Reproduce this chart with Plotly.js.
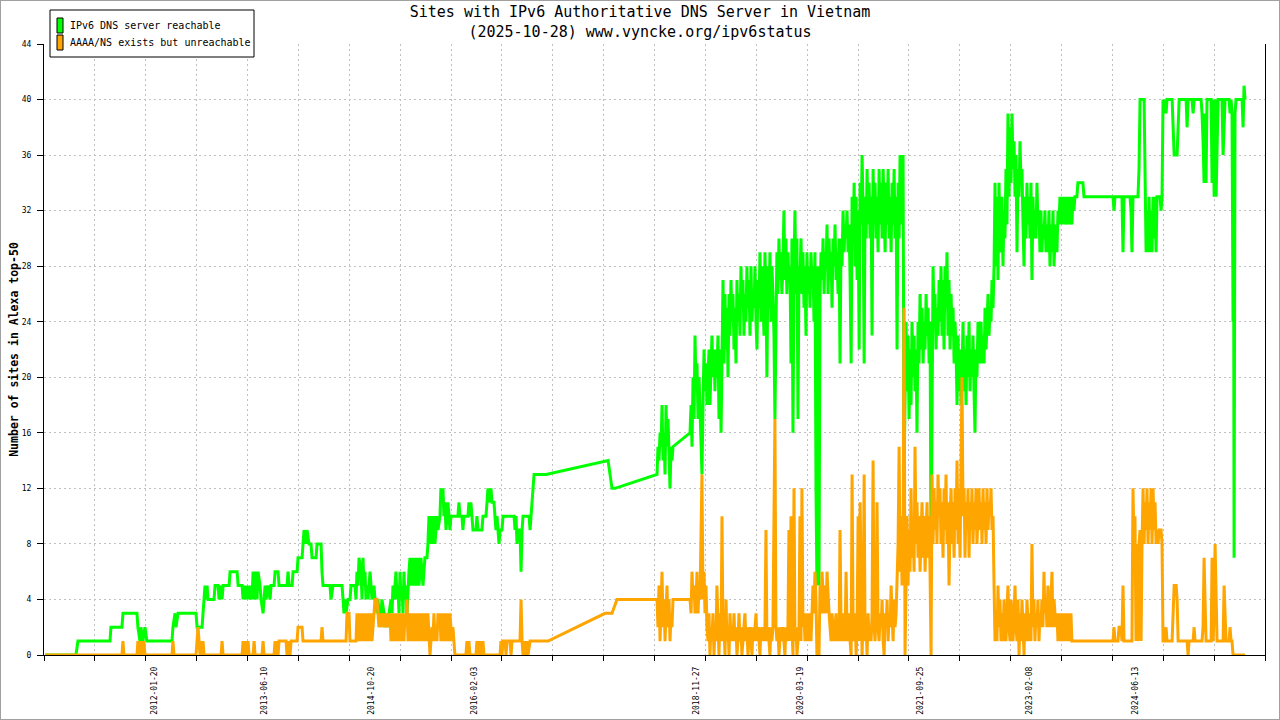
<!DOCTYPE html>
<html><head><meta charset="utf-8">
<script src="https://cdn.plot.ly/plotly-3.0.1.min.js"></script>
<style>
html,body{margin:0;padding:0;background:#fff;}
#chart{width:1280px;height:720px;}
#frame{position:absolute;left:0;top:0;width:1280px;height:720px;box-sizing:border-box;border:1px solid #a0a0a0;pointer-events:none;}
</style></head><body>
<div id="chart"></div><div id="frame"></div>
<script>
const chartTitle = 'Sites with IPv6 Authoritative DNS Server in Vietnam<br>(2025-10-28) www.vyncke.org/ipv6status';
const yAxisTitle = 'Number of sites in Alexa top-50';
const greenName = 'IPv6 DNS server reachable';
const orangeName = 'AAAA/NS exists but unreachable';
const dateLabels = ['2012-01-20','2013-06-10','2014-10-20','2016-02-03','2018-11-27','2020-03-19','2021-09-25','2023-02-08','2024-06-13'];
const yTicks = [0,4,8,12,16,20,24,28,32,36,40,44];

// [decimal year, number of sites]
const greenSeries = [
[2010.672,0],[2011.063,0],[2011.088,1],[2011.493,1],[2011.505,2],[2011.644,2],[2011.657,3],[2011.834,3],[2011.846,2],[2011.872,1],[2011.884,2],[2011.909,1],[2011.935,2],[2011.960,1],[2012.276,1],[2012.288,2],[2012.314,3],[2012.326,2],[2012.352,3],[2012.579,3],[2012.592,2],[2012.655,2],[2012.667,3],[2012.680,4],[2012.692,5],[2012.705,4],[2012.718,5],[2012.730,4],[2012.806,4],[2012.819,5],[2012.857,5],[2012.869,4],[2012.895,5],[2012.907,4],[2012.920,5],[2012.996,5],[2013.008,6],[2013.097,6],[2013.110,5],[2013.160,5],[2013.172,4],[2013.185,5],[2013.198,4],[2013.210,5],[2013.223,4],[2013.236,5],[2013.248,4],[2013.261,5],[2013.286,4],[2013.299,6],[2013.312,4],[2013.324,6],[2013.337,5],[2013.349,4],[2013.362,6],[2013.387,5],[2013.400,4],[2013.425,3],[2013.438,4],[2013.450,5],[2013.463,4],[2013.488,5],[2013.514,4],[2013.526,5],[2013.564,5],[2013.577,6],[2013.615,6],[2013.627,5],[2013.728,5],[2013.741,6],[2013.754,5],[2013.792,5],[2013.804,6],[2013.855,6],[2013.867,7],[2013.918,7],[2013.930,8],[2013.943,9],[2013.968,8],[2013.981,9],[2014.006,8],[2014.031,8],[2014.044,7],[2014.095,7],[2014.107,8],[2014.158,8],[2014.170,6],[2014.183,5],[2014.271,5],[2014.284,4],[2014.309,5],[2014.423,5],[2014.436,4],[2014.448,3],[2014.461,4],[2014.474,3],[2014.499,4],[2014.524,4],[2014.537,5],[2014.587,5],[2014.600,4],[2014.612,6],[2014.625,5],[2014.638,7],[2014.663,6],[2014.676,4],[2014.688,7],[2014.701,5],[2014.714,6],[2014.726,4],[2014.739,5],[2014.751,4],[2014.777,6],[2014.789,5],[2014.802,4],[2014.827,5],[2014.840,4],[2014.865,3],[2014.878,4],[2014.890,3],[2014.903,2],[2014.916,3],[2014.928,4],[2014.954,3],[2014.966,2],[2014.979,3],[2015.004,2],[2015.017,3],[2015.042,4],[2015.055,3],[2015.067,5],[2015.080,4],[2015.105,6],[2015.118,4],[2015.130,5],[2015.143,3],[2015.156,6],[2015.168,4],[2015.181,5],[2015.194,3],[2015.206,6],[2015.219,4],[2015.232,5],[2015.244,3],[2015.257,5],[2015.269,6],[2015.282,7],[2015.295,5],[2015.307,7],[2015.320,6],[2015.332,5],[2015.345,7],[2015.358,5],[2015.383,7],[2015.396,5],[2015.421,7],[2015.446,5],[2015.471,7],[2015.497,7],[2015.509,8],[2015.522,10],[2015.535,8],[2015.547,10],[2015.560,9],[2015.572,8],[2015.585,10],[2015.598,8],[2015.610,9],[2015.623,10],[2015.636,9],[2015.661,10],[2015.673,12],[2015.686,11],[2015.699,12],[2015.711,10],[2015.724,11],[2015.737,9],[2015.749,10],[2015.762,11],[2015.775,10],[2015.787,9],[2015.800,10],[2015.888,10],[2015.901,11],[2015.914,10],[2015.939,10],[2015.951,9],[2015.964,10],[2016.015,10],[2016.027,11],[2016.040,10],[2016.052,11],[2016.065,10],[2016.078,9],[2016.116,9],[2016.128,10],[2016.141,9],[2016.191,9],[2016.204,10],[2016.242,10],[2016.255,11],[2016.267,12],[2016.280,11],[2016.305,12],[2016.318,11],[2016.343,11],[2016.355,10],[2016.368,9],[2016.381,10],[2016.393,9],[2016.406,8],[2016.419,9],[2016.444,9],[2016.457,10],[2016.596,10],[2016.608,9],[2016.621,10],[2016.633,8],[2016.646,9],[2016.671,9],[2016.684,6],[2016.697,9],[2016.709,10],[2016.785,10],[2016.798,9],[2016.810,10],[2016.823,11],[2016.836,12],[2016.848,13],[2016.886,13],[2017.000,13],[2017.783,14],[2017.808,13],[2017.833,12],[2017.871,12],[2018.402,13],
[2018.414,15],[2018.427,14],[2018.440,16],[2018.453,15],[2018.465,18],[2018.478,14],[2018.491,16],[2018.503,13],[2018.516,18],[2018.528,15],[2018.541,17],[2018.554,14],[2018.566,12],[2018.579,15],[2018.591,14],[2018.604,15],
[2018.819,16],[2018.832,18],[2018.844,15],[2018.857,20],[2018.870,17],[2018.882,23],[2018.895,19],[2018.907,21],[2018.920,17],[2018.933,20],[2018.945,18],[2018.958,16],[2018.970,13],[2018.983,18],[2018.996,22],[2019.008,19],[2019.021,21],[2019.033,18],[2019.046,20],[2019.059,22],[2019.071,18],[2019.084,21],[2019.096,23],[2019.109,20],[2019.122,22],[2019.134,19],[2019.147,22],[2019.159,20],[2019.172,23],[2019.185,17],[2019.198,22],[2019.211,16],[2019.223,20],[2019.236,27],[2019.249,21],[2019.261,26],[2019.274,22],[2019.286,25],[2019.299,20],[2019.312,26],[2019.324,23],[2019.337,27],[2019.349,24],[2019.362,26],[2019.375,22],[2019.387,25],[2019.400,21],[2019.412,27],[2019.425,24],[2019.438,26],[2019.450,23],[2019.463,28],[2019.475,25],[2019.488,27],[2019.501,23],[2019.513,26],[2019.526,24],[2019.538,28],[2019.551,25],[2019.564,27],[2019.577,23],[2019.590,28],[2019.602,24],[2019.615,26],[2019.628,25],[2019.640,28],[2019.653,24],[2019.665,22],[2019.678,27],[2019.691,25],[2019.703,29],[2019.716,24],[2019.728,28],[2019.741,26],[2019.754,23],[2019.766,29],[2019.779,26],[2019.791,20],[2019.804,28],[2019.817,25],[2019.829,29],[2019.842,24],[2019.854,28],[2019.867,26],[2019.880,23],[2019.892,17],[2019.905,26],[2019.917,29],[2019.930,26],[2019.943,30],[2019.955,27],[2019.968,29],[2019.980,26],[2019.993,28],[2020.006,32],[2020.018,27],[2020.031,30],[2020.043,26],[2020.056,29],[2020.069,27],[2020.082,28],[2020.095,21],[2020.107,30],[2020.120,16],[2020.133,28],[2020.145,32],[2020.158,26],[2020.170,30],[2020.183,17],[2020.196,28],[2020.208,27],[2020.221,30],[2020.233,26],[2020.246,29],[2020.259,25],[2020.271,28],[2020.284,23],[2020.296,29],[2020.309,26],[2020.322,28],[2020.334,25],[2020.347,29],[2020.359,27],[2020.372,28],[2020.385,24],[2020.397,29],[2020.410,12],[2020.422,5],[2020.435,28],[2020.448,5],[2020.461,26],[2020.474,29],[2020.486,27],[2020.499,30],[2020.512,26],[2020.524,29],[2020.537,28],[2020.549,31],[2020.562,26],[2020.575,30],[2020.587,27],[2020.600,29],[2020.612,25],[2020.625,30],[2020.638,28],[2020.650,31],[2020.663,27],[2020.675,29],[2020.688,26],[2020.701,30],[2020.713,21],[2020.726,30],[2020.738,28],[2020.751,32],[2020.764,29],[2020.776,31],[2020.789,30],[2020.801,32],[2020.814,29],[2020.827,31],[2020.840,27],[2020.853,21],[2020.865,33],[2020.878,30],[2020.891,34],[2020.903,28],[2020.916,33],[2020.928,27],[2020.941,32],[2020.954,22],[2020.966,34],[2020.979,31],[2020.991,36],[2021.004,32],[2021.017,21],[2021.029,33],[2021.042,30],[2021.054,35],[2021.067,31],[2021.080,34],[2021.092,30],[2021.105,33],[2021.117,23],[2021.130,35],[2021.143,31],[2021.155,34],[2021.168,30],[2021.180,33],[2021.193,29],[2021.206,35],[2021.219,31],[2021.232,34],[2021.244,30],[2021.257,35],[2021.270,32],[2021.282,29],[2021.295,34],[2021.307,31],[2021.320,35],[2021.333,30],[2021.345,33],[2021.358,29],[2021.370,34],[2021.383,31],[2021.396,35],[2021.408,30],[2021.421,33],[2021.433,22],[2021.446,34],[2021.459,30],[2021.471,36],[2021.484,31],[2021.496,35],[2021.509,36],[2021.522,13],[2021.534,20],[2021.547,24],[2021.559,19],[2021.572,23],[2021.585,17],[2021.597,22],[2021.610,18],[2021.622,24],[2021.635,20],[2021.648,23],[2021.660,19],[2021.673,22],[2021.685,16],[2021.698,24],[2021.711,21],[2021.724,26],[2021.737,22],[2021.749,25],[2021.762,21],[2021.775,24],[2021.787,22],[2021.800,26],[2021.812,23],[2021.825,25],[2021.838,21],[2021.850,24],[2021.863,7],[2021.875,22],[2021.888,28],[2021.901,24],[2021.913,26],[2021.926,22],[2021.938,25],[2021.951,23],[2021.964,27],[2021.976,24],[2021.989,28],[2022.001,23],[2022.014,27],[2022.027,22],[2022.039,28],[2022.052,25],[2022.064,29],[2022.077,23],[2022.090,27],[2022.103,22],[2022.116,26],[2022.128,23],[2022.141,25],[2022.154,21],[2022.166,24],[2022.179,22],[2022.191,18],[2022.204,23],[2022.217,19],[2022.229,22],[2022.242,18],[2022.254,20],[2022.267,24],[2022.280,19],[2022.292,22],[2022.305,18],[2022.317,23],[2022.330,20],[2022.343,24],[2022.355,19],[2022.368,22],[2022.380,20],[2022.393,23],[2022.406,19],[2022.418,16],[2022.431,22],[2022.443,20],[2022.456,24],[2022.469,21],[2022.482,22],[2022.495,24],[2022.507,21],[2022.520,23],[2022.533,21],[2022.545,25],[2022.558,22],[2022.570,24],[2022.583,26],[2022.596,23],[2022.608,25],[2022.621,24],[2022.633,27],[2022.646,25],[2022.659,28],[2022.671,34],[2022.684,28],[2022.696,33],[2022.709,27],[2022.722,34],[2022.734,29],[2022.747,30],[2022.759,33],[2022.772,28],[2022.785,32],[2022.797,30],[2022.810,35],[2022.822,31],[2022.835,39],[2022.848,33],[2022.861,38],[2022.874,34],[2022.886,39],[2022.899,35],[2022.912,37],[2022.924,33],[2022.937,36],[2022.949,29],[2022.962,35],[2022.975,33],[2022.987,37],[2023.000,34],[2023.012,35],[2023.025,31],[2023.038,28],[2023.050,33],[2023.063,30],[2023.075,34],[2023.088,31],[2023.101,33],[2023.113,30],[2023.126,34],[2023.138,27],[2023.151,33],[2023.164,30],[2023.176,32],[2023.189,30],[2023.201,34],[2023.214,31],[2023.227,32],[2023.239,29],[2023.252,32],[2023.264,29],[2023.277,31],[2023.290,30],[2023.302,32],[2023.315,29],[2023.327,31],[2023.340,29],[2023.353,32],[2023.366,28],[2023.379,31],[2023.391,29],[2023.404,32],[2023.417,28],[2023.429,30],[2023.442,31],[2023.454,29],[2023.467,32],[2023.480,31],[2023.492,33],[2023.505,32],[2023.517,31],[2023.530,33],[2023.543,31],[2023.555,33],[2023.568,32],[2023.580,31],[2023.593,33],[2023.606,31],[2023.618,33],[2023.631,32],[2023.643,31],[2023.656,33],[2023.669,32],[2023.681,33],[2023.706,33],[2023.719,34],[2023.782,34],[2023.796,33],[2024.162,33],[2024.175,32],[2024.187,33],[2024.275,33],[2024.288,29],[2024.301,33],[2024.376,33],[2024.389,32],[2024.401,29],[2024.414,33],[2024.477,33],[2024.490,35],[2024.503,40],[2024.554,40],[2024.566,33],[2024.579,29],[2024.591,32],[2024.604,29],[2024.617,33],[2024.629,29],[2024.642,32],[2024.654,29],[2024.667,33],[2024.680,30],[2024.692,33],[2024.705,29],[2024.717,33],[2024.755,33],[2024.768,32],[2024.780,33],[2024.793,40],[2024.806,39],[2024.818,40],[2024.831,39],[2024.843,40],[2024.907,40],[2024.920,38],[2024.933,36],[2024.970,36],[2024.983,38],[2024.996,40],[2025.084,40],[2025.096,38],[2025.109,40],[2025.159,40],[2025.172,39],[2025.185,40],[2025.273,40],[2025.285,39],[2025.298,37],[2025.311,34],[2025.323,39],[2025.336,34],[2025.348,40],[2025.400,40],[2025.412,34],[2025.425,40],[2025.438,33],[2025.450,40],[2025.463,33],[2025.475,38],[2025.488,40],[2025.538,40],[2025.551,36],[2025.564,38],[2025.576,40],[2025.627,40],[2025.639,39],[2025.652,40],[2025.664,39],[2025.677,24],[2025.683,38],[2025.690,7],[2025.702,39],[2025.715,40],[2025.791,40],[2025.804,38],[2025.816,41],[2025.829,40]
];

const orangeSeries = [
[2010.672,0],[2011.644,0],[2011.657,1],[2011.669,0],[2011.834,0],[2011.846,1],[2011.859,0],[2011.884,1],[2011.897,0],[2011.922,1],[2011.935,0],[2012.276,0],[2012.288,1],[2012.301,0],[2012.579,0],[2012.592,1],[2012.604,2],[2012.617,1],[2012.629,0],[2012.642,1],[2012.655,0],[2012.667,1],[2012.680,0],[2012.895,0],[2012.907,1],[2012.920,0],[2013.160,0],[2013.172,1],[2013.185,0],[2013.198,1],[2013.210,0],[2013.236,1],[2013.248,0],[2013.299,0],[2013.312,1],[2013.324,0],[2013.412,0],[2013.425,1],[2013.438,0],[2013.564,0],[2013.577,1],[2013.589,0],[2013.602,1],[2013.615,0],[2013.627,1],[2013.716,1],[2013.728,0],[2013.754,1],[2013.766,0],[2013.779,1],[2013.855,1],[2013.867,2],[2013.918,2],[2013.930,1],[2014.158,1],[2014.170,2],[2014.183,1],[2014.474,1],[2014.486,3],[2014.512,3],[2014.524,1],[2014.600,1],[2014.612,3],[2014.625,1],[2014.638,2],[2014.650,3],[2014.663,1],[2014.676,2],[2014.688,3],[2014.701,1],[2014.714,3],[2014.726,2],[2014.739,1],[2014.751,3],[2014.764,2],[2014.777,1],[2014.789,3],[2014.802,1],[2014.815,2],[2014.827,3],[2014.840,4],[2014.865,4],[2014.878,3],[2014.890,2],[2014.903,3],[2014.916,2],[2014.928,3],[2014.954,2],[2014.966,3],[2014.979,2],[2015.004,3],[2015.017,2],[2015.029,3],[2015.042,1],[2015.055,3],[2015.067,1],[2015.080,2],[2015.092,3],[2015.105,1],[2015.118,3],[2015.130,2],[2015.143,1],[2015.156,3],[2015.168,1],[2015.181,3],[2015.194,2],[2015.206,1],[2015.219,3],[2015.232,2],[2015.244,4],[2015.257,1],[2015.269,3],[2015.282,2],[2015.295,1],[2015.307,3],[2015.320,1],[2015.332,2],[2015.345,3],[2015.358,1],[2015.370,3],[2015.383,2],[2015.396,1],[2015.408,3],[2015.421,1],[2015.433,3],[2015.446,2],[2015.459,1],[2015.471,3],[2015.484,2],[2015.497,1],[2015.509,3],[2015.522,1],[2015.535,0],[2015.547,1],[2015.560,2],[2015.572,1],[2015.585,3],[2015.598,1],[2015.610,2],[2015.623,1],[2015.636,3],[2015.648,2],[2015.661,3],[2015.673,1],[2015.686,3],[2015.699,1],[2015.711,2],[2015.724,3],[2015.737,1],[2015.749,3],[2015.762,2],[2015.775,1],[2015.787,3],[2015.800,2],[2015.813,1],[2015.825,2],[2015.838,1],[2015.850,0],[2015.989,0],[2016.002,1],[2016.015,0],[2016.027,1],[2016.040,0],[2016.116,0],[2016.128,1],[2016.141,0],[2016.166,1],[2016.179,0],[2016.204,1],[2016.217,0],[2016.419,0],[2016.431,1],[2016.444,0],[2016.457,1],[2016.482,1],[2016.495,0],[2016.507,1],[2016.545,1],[2016.558,0],[2016.570,1],[2016.671,1],[2016.684,4],[2016.697,1],[2016.709,0],[2016.722,1],[2016.735,0],[2016.760,1],[2016.772,0],[2016.798,1],[2017.025,1],[2017.745,3],[2017.833,3],[2017.896,4],[2018.402,4],
[2018.414,2],[2018.427,5],[2018.440,1],[2018.453,3],[2018.465,6],[2018.478,2],[2018.491,4],[2018.503,1],[2018.516,3],[2018.528,5],[2018.541,2],[2018.554,4],[2018.566,1],[2018.579,3],[2018.591,2],[2018.604,4],
[2018.819,4],[2018.832,3],[2018.844,6],[2018.857,4],[2018.870,5],[2018.882,3],[2018.895,4],[2018.907,6],[2018.920,3],[2018.933,5],[2018.945,4],[2018.958,9],[2018.970,13],[2018.983,4],[2018.996,6],[2019.008,3],[2019.021,5],[2019.033,2],[2019.046,1],[2019.059,3],[2019.071,0],[2019.084,2],[2019.096,1],[2019.109,3],[2019.122,0],[2019.134,2],[2019.147,1],[2019.159,5],[2019.172,2],[2019.185,0],[2019.198,3],[2019.211,1],[2019.223,10],[2019.236,1],[2019.249,2],[2019.261,0],[2019.274,4],[2019.286,1],[2019.299,2],[2019.312,0],[2019.324,3],[2019.337,1],[2019.349,2],[2019.362,1],[2019.375,3],[2019.387,1],[2019.400,2],[2019.412,0],[2019.425,1],[2019.438,3],[2019.450,1],[2019.463,2],[2019.475,0],[2019.488,1],[2019.501,2],[2019.513,3],[2019.526,1],[2019.538,2],[2019.551,0],[2019.564,1],[2019.577,2],[2019.590,1],[2019.602,0],[2019.615,2],[2019.628,1],[2019.640,2],[2019.653,3],[2019.665,1],[2019.678,2],[2019.691,1],[2019.703,0],[2019.716,2],[2019.728,1],[2019.741,2],[2019.754,1],[2019.766,2],[2019.779,9],[2019.791,1],[2019.804,2],[2019.817,1],[2019.829,0],[2019.842,2],[2019.854,1],[2019.867,2],[2019.880,9],[2019.892,17],[2019.905,2],[2019.917,1],[2019.930,2],[2019.943,0],[2019.955,1],[2019.968,2],[2019.980,1],[2019.993,2],[2020.006,1],[2020.018,0],[2020.031,2],[2020.043,1],[2020.056,2],[2020.069,9],[2020.082,1],[2020.095,10],[2020.107,2],[2020.120,0],[2020.133,12],[2020.145,1],[2020.158,2],[2020.170,0],[2020.183,1],[2020.196,2],[2020.208,10],[2020.221,1],[2020.233,12],[2020.246,2],[2020.259,3],[2020.271,1],[2020.284,2],[2020.296,3],[2020.309,1],[2020.322,2],[2020.334,3],[2020.347,1],[2020.359,3],[2020.372,5],[2020.385,3],[2020.397,6],[2020.410,4],[2020.422,0],[2020.435,1],[2020.448,0],[2020.461,5],[2020.474,3],[2020.486,6],[2020.499,4],[2020.512,3],[2020.524,5],[2020.537,3],[2020.549,6],[2020.562,4],[2020.575,3],[2020.587,2],[2020.600,1],[2020.612,3],[2020.625,2],[2020.638,1],[2020.650,2],[2020.663,3],[2020.675,1],[2020.688,2],[2020.701,1],[2020.713,9],[2020.726,2],[2020.738,1],[2020.751,3],[2020.764,2],[2020.776,1],[2020.789,6],[2020.801,2],[2020.814,1],[2020.827,3],[2020.840,1],[2020.853,0],[2020.865,13],[2020.878,2],[2020.891,1],[2020.903,3],[2020.916,0],[2020.928,2],[2020.941,10],[2020.954,1],[2020.966,11],[2020.979,2],[2020.991,0],[2021.004,3],[2021.017,13],[2021.029,1],[2021.042,2],[2021.054,0],[2021.067,3],[2021.080,1],[2021.092,2],[2021.105,1],[2021.117,3],[2021.130,14],[2021.143,2],[2021.155,1],[2021.168,3],[2021.180,11],[2021.193,2],[2021.206,1],[2021.219,3],[2021.232,2],[2021.244,4],[2021.257,1],[2021.270,0],[2021.282,3],[2021.295,2],[2021.307,4],[2021.320,1],[2021.333,3],[2021.345,2],[2021.358,5],[2021.370,3],[2021.383,1],[2021.396,4],[2021.408,2],[2021.421,3],[2021.433,5],[2021.446,8],[2021.459,15],[2021.471,6],[2021.484,10],[2021.496,5],[2021.509,8],[2021.522,25],[2021.534,0],[2021.547,6],[2021.559,10],[2021.572,5],[2021.585,9],[2021.597,6],[2021.610,12],[2021.622,7],[2021.635,10],[2021.648,6],[2021.660,15],[2021.673,8],[2021.685,11],[2021.698,7],[2021.711,10],[2021.724,6],[2021.737,9],[2021.749,11],[2021.762,7],[2021.775,10],[2021.787,6],[2021.800,9],[2021.812,11],[2021.825,7],[2021.838,10],[2021.850,6],[2021.863,0],[2021.875,13],[2021.888,8],[2021.901,12],[2021.913,9],[2021.926,11],[2021.938,8],[2021.951,13],[2021.964,10],[2021.976,12],[2021.989,8],[2022.001,11],[2022.014,7],[2022.027,12],[2022.039,9],[2022.052,13],[2022.064,8],[2022.077,11],[2022.090,5],[2022.103,10],[2022.116,12],[2022.128,8],[2022.141,11],[2022.154,7],[2022.166,12],[2022.179,9],[2022.191,14],[2022.204,8],[2022.217,12],[2022.229,7],[2022.242,13],[2022.254,20],[2022.267,10],[2022.280,12],[2022.292,7],[2022.305,11],[2022.317,9],[2022.330,12],[2022.343,7],[2022.355,11],[2022.368,9],[2022.380,12],[2022.393,8],[2022.406,11],[2022.418,9],[2022.431,12],[2022.443,8],[2022.456,10],[2022.469,12],[2022.482,9],[2022.495,11],[2022.507,8],[2022.520,12],[2022.533,9],[2022.545,11],[2022.558,8],[2022.570,12],[2022.583,9],[2022.596,11],[2022.608,10],[2022.621,12],[2022.633,9],[2022.646,10],[2022.659,5],[2022.671,1],[2022.684,3],[2022.696,1],[2022.709,5],[2022.722,2],[2022.734,4],[2022.747,1],[2022.759,3],[2022.772,1],[2022.785,4],[2022.797,2],[2022.810,1],[2022.822,3],[2022.835,5],[2022.848,2],[2022.861,1],[2022.874,4],[2022.886,2],[2022.899,1],[2022.912,3],[2022.924,5],[2022.937,2],[2022.949,1],[2022.962,4],[2022.975,0],[2022.987,3],[2023.000,1],[2023.012,4],[2023.025,2],[2023.038,0],[2023.050,3],[2023.063,1],[2023.075,4],[2023.088,2],[2023.101,1],[2023.113,3],[2023.126,1],[2023.138,8],[2023.151,2],[2023.164,4],[2023.176,1],[2023.189,3],[2023.201,2],[2023.214,4],[2023.227,1],[2023.239,3],[2023.252,2],[2023.264,4],[2023.277,2],[2023.290,6],[2023.302,3],[2023.315,4],[2023.327,2],[2023.340,5],[2023.353,3],[2023.366,2],[2023.379,4],[2023.391,6],[2023.404,2],[2023.417,4],[2023.429,3],[2023.442,2],[2023.454,3],[2023.467,1],[2023.480,2],[2023.492,3],[2023.505,1],[2023.517,2],[2023.530,3],[2023.543,1],[2023.555,2],[2023.568,3],[2023.580,1],[2023.593,3],[2023.606,1],[2023.618,2],[2023.631,3],[2023.643,1],[2024.162,1],[2024.175,2],[2024.187,1],[2024.225,1],[2024.238,2],[2024.263,2],[2024.275,1],[2024.288,5],[2024.301,1],[2024.401,1],[2024.414,12],[2024.427,8],[2024.439,10],[2024.452,1],[2024.465,8],[2024.477,1],[2024.490,8],[2024.503,9],[2024.516,1],[2024.528,8],[2024.541,12],[2024.554,8],[2024.566,11],[2024.579,9],[2024.591,12],[2024.604,8],[2024.617,11],[2024.629,9],[2024.642,12],[2024.654,8],[2024.667,12],[2024.680,9],[2024.692,11],[2024.705,8],[2024.717,9],[2024.730,8],[2024.743,9],[2024.768,9],[2024.780,8],[2024.793,1],[2024.818,1],[2024.831,2],[2024.843,1],[2024.907,1],[2024.920,3],[2024.933,5],[2024.958,5],[2024.970,4],[2024.983,1],[2025.096,1],[2025.109,0],[2025.121,1],[2025.172,1],[2025.185,2],[2025.197,1],[2025.285,1],[2025.298,2],[2025.311,7],[2025.323,4],[2025.336,1],[2025.400,1],[2025.412,7],[2025.425,1],[2025.438,3],[2025.450,8],[2025.463,3],[2025.475,1],[2025.551,1],[2025.564,5],[2025.576,3],[2025.589,1],[2025.627,1],[2025.639,2],[2025.652,1],[2025.664,1],[2025.677,0],[2025.829,0]
];

// axis span in decimal years
const xStartYear = 2010.659;
const xEndYear = 2026.081;

function yearToMs(y){
  const yr = Math.floor(y);
  const a = Date.UTC(yr,0,1), b = Date.UTC(yr+1,0,1);
  return a + (y - yr) * (b - a);
}

const FONT = 'DejaVu Sans Mono, Liberation Mono, monospace';
const r0 = yearToMs(xStartYear), r1 = yearToMs(xEndYear);
const gridVals = [];
for (let i = 0; i <= 24; i++) gridVals.push(r0 + i * (r1 - r0) / 24);

const traces = [
  {type:'scatter', mode:'lines', name: greenName,
   x: greenSeries.map(p => yearToMs(p[0])), y: greenSeries.map(p => p[1]),
   line:{color:'#00ff00', width:3}, showlegend:false, hoverinfo:'skip', xaxis:'x', yaxis:'y'},
  {type:'scatter', mode:'lines', name: orangeName,
   x: orangeSeries.map(p => yearToMs(p[0])), y: orangeSeries.map(p => p[1]),
   line:{color:'#ffa500', width:3}, showlegend:false, hoverinfo:'skip', xaxis:'x2', yaxis:'y'}
];

const W = 1221, H = 611; // plot area size in px, used for paper-relative placement
function px(x){ return (x - 44) / W; }
function py(y){ return (655 - y) / H; }

const layout = {
  width:1280, height:720,
  margin:{l:44, r:15, t:44, b:65, pad:0},
  paper_bgcolor:'#ffffff', plot_bgcolor:'#ffffff',
  showlegend:false,
  font:{family:FONT, color:'#000000'},
  title:{text: chartTitle, font:{family:FONT, size:15, color:'#000000'},
         x:0.5, xref:'container', xanchor:'center', y:0.976, yref:'container', yanchor:'top'},
  xaxis:{type:'date', range:[r0, r1], tickmode:'array', tickvals:gridVals, showticklabels:false,
         ticks:'outside', ticklen:5, tickcolor:'#000', tickwidth:1,
         showgrid:true, gridcolor:'#c0c0c0', gridwidth:1, griddash:'2px,3px',
         showline:true, linecolor:'#000', linewidth:1, zeroline:false, fixedrange:true},
  xaxis2:{type:'date', range:[r0, r1], overlaying:'x', anchor:'y', side:'bottom',
          tickmode:'array', tickvals:dateLabels, ticktext:dateLabels, tickangle:-90,
          ticks:'', showgrid:false, showline:false, zeroline:false,
          tickfont:{family:FONT, size:8, color:'#000'}, ticklabelstandoff:9, fixedrange:true},
  yaxis:{range:[0,44], tickmode:'array', tickvals:yTicks, ticktext:yTicks.map(String),
         ticks:'outside', ticklen:6, tickcolor:'#000', tickwidth:1,
         tickfont:{family:FONT, size:8, color:'#000'}, ticklabelstandoff:4,
         showgrid:true, gridcolor:'#c0c0c0', gridwidth:1, griddash:'2px,3px',
         showline:true, linecolor:'#000', linewidth:1, mirror:true, zeroline:false, fixedrange:true,
         title:{text: yAxisTitle, font:{family:FONT, size:11.5, color:'#000', weight:'bold'}, standoff:0}},
  shapes:[
    {type:'rect', xref:'paper', yref:'paper', x0:px(50), x1:px(254), y0:py(57), y1:py(10),
     line:{color:'#000', width:1}, fillcolor:'#ffffff', layer:'above'},
    {type:'rect', xref:'paper', yref:'paper', x0:px(57), x1:px(63), y0:py(33), y1:py(18),
     line:{color:'#000', width:1}, fillcolor:'#00ff00', layer:'above'},
    {type:'rect', xref:'paper', yref:'paper', x0:px(57), x1:px(63), y0:py(50), y1:py(35),
     line:{color:'#000', width:1}, fillcolor:'#ffa500', layer:'above'}
  ],
  annotations:[
    {xref:'paper', yref:'paper', x:px(68), y:py(25.5), xanchor:'left', yanchor:'middle',
     text: greenName, showarrow:false, font:{family:FONT, size:10, color:'#000'}},
    {xref:'paper', yref:'paper', x:px(68), y:py(43), xanchor:'left', yanchor:'middle',
     text: orangeName, showarrow:false, font:{family:FONT, size:10, color:'#000'}}
  ]
};

Plotly.newPlot('chart', traces, layout, {displayModeBar:false, staticPlot:true});
</script>
</body></html>
